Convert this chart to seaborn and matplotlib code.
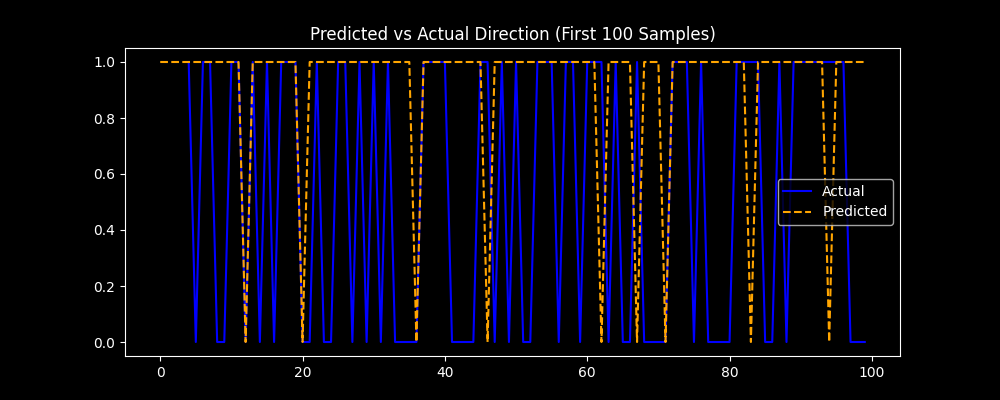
import matplotlib.pyplot as plt
import numpy as np
import pandas as pd
import seaborn as sns

# actual direction starts at sample 4
actual_start = 4
actual = [1, 0, 1, 1, 0, 0, 1, 1, 0, 1, 0, 1, 0, 1, 1, 1, 0, 0, 1, 0, 0, 1, 1, 0, 1, 0, 1, 0, 1,
          0, 0, 0, 0, 1, 1, 1, 1, 0, 0, 0, 0, 1, 1, 0, 1, 0, 1, 0, 0, 1, 1, 1, 0, 1, 1, 0, 1,
          1, 1, 0, 1, 0, 0, 1, 0, 0, 0, 0, 1, 1, 1, 0, 1, 0, 0, 0, 0, 1, 1, 1, 1, 0, 0, 1, 0,
          1, 1, 1, 1, 1, 1, 1, 1, 0, 0, 0]
predicted_zeros = [12, 20, 36, 46, 62, 67, 71, 83, 94]
predicted = [0 if i in predicted_zeros else 1 for i in range(100)]

plt.style.use('dark_background')
fig, ax = plt.subplots(figsize=(10, 4), dpi=100)

act_df = pd.DataFrame({'x': np.arange(actual_start, actual_start + len(actual)), 'y': actual})
pred_df = pd.DataFrame({'x': np.arange(len(predicted)), 'y': predicted})

sns.lineplot(data=act_df, x='x', y='y', color='blue', label='Actual', ax=ax)
sns.lineplot(data=pred_df, x='x', y='y', color='orange', linestyle='--', label='Predicted', ax=ax)

ax.set_title('Predicted vs Actual Direction (First 100 Samples)')
ax.set_xlabel(None)
ax.set_ylabel(None)
ax.legend(loc='center right')

fig.savefig('out.png')
